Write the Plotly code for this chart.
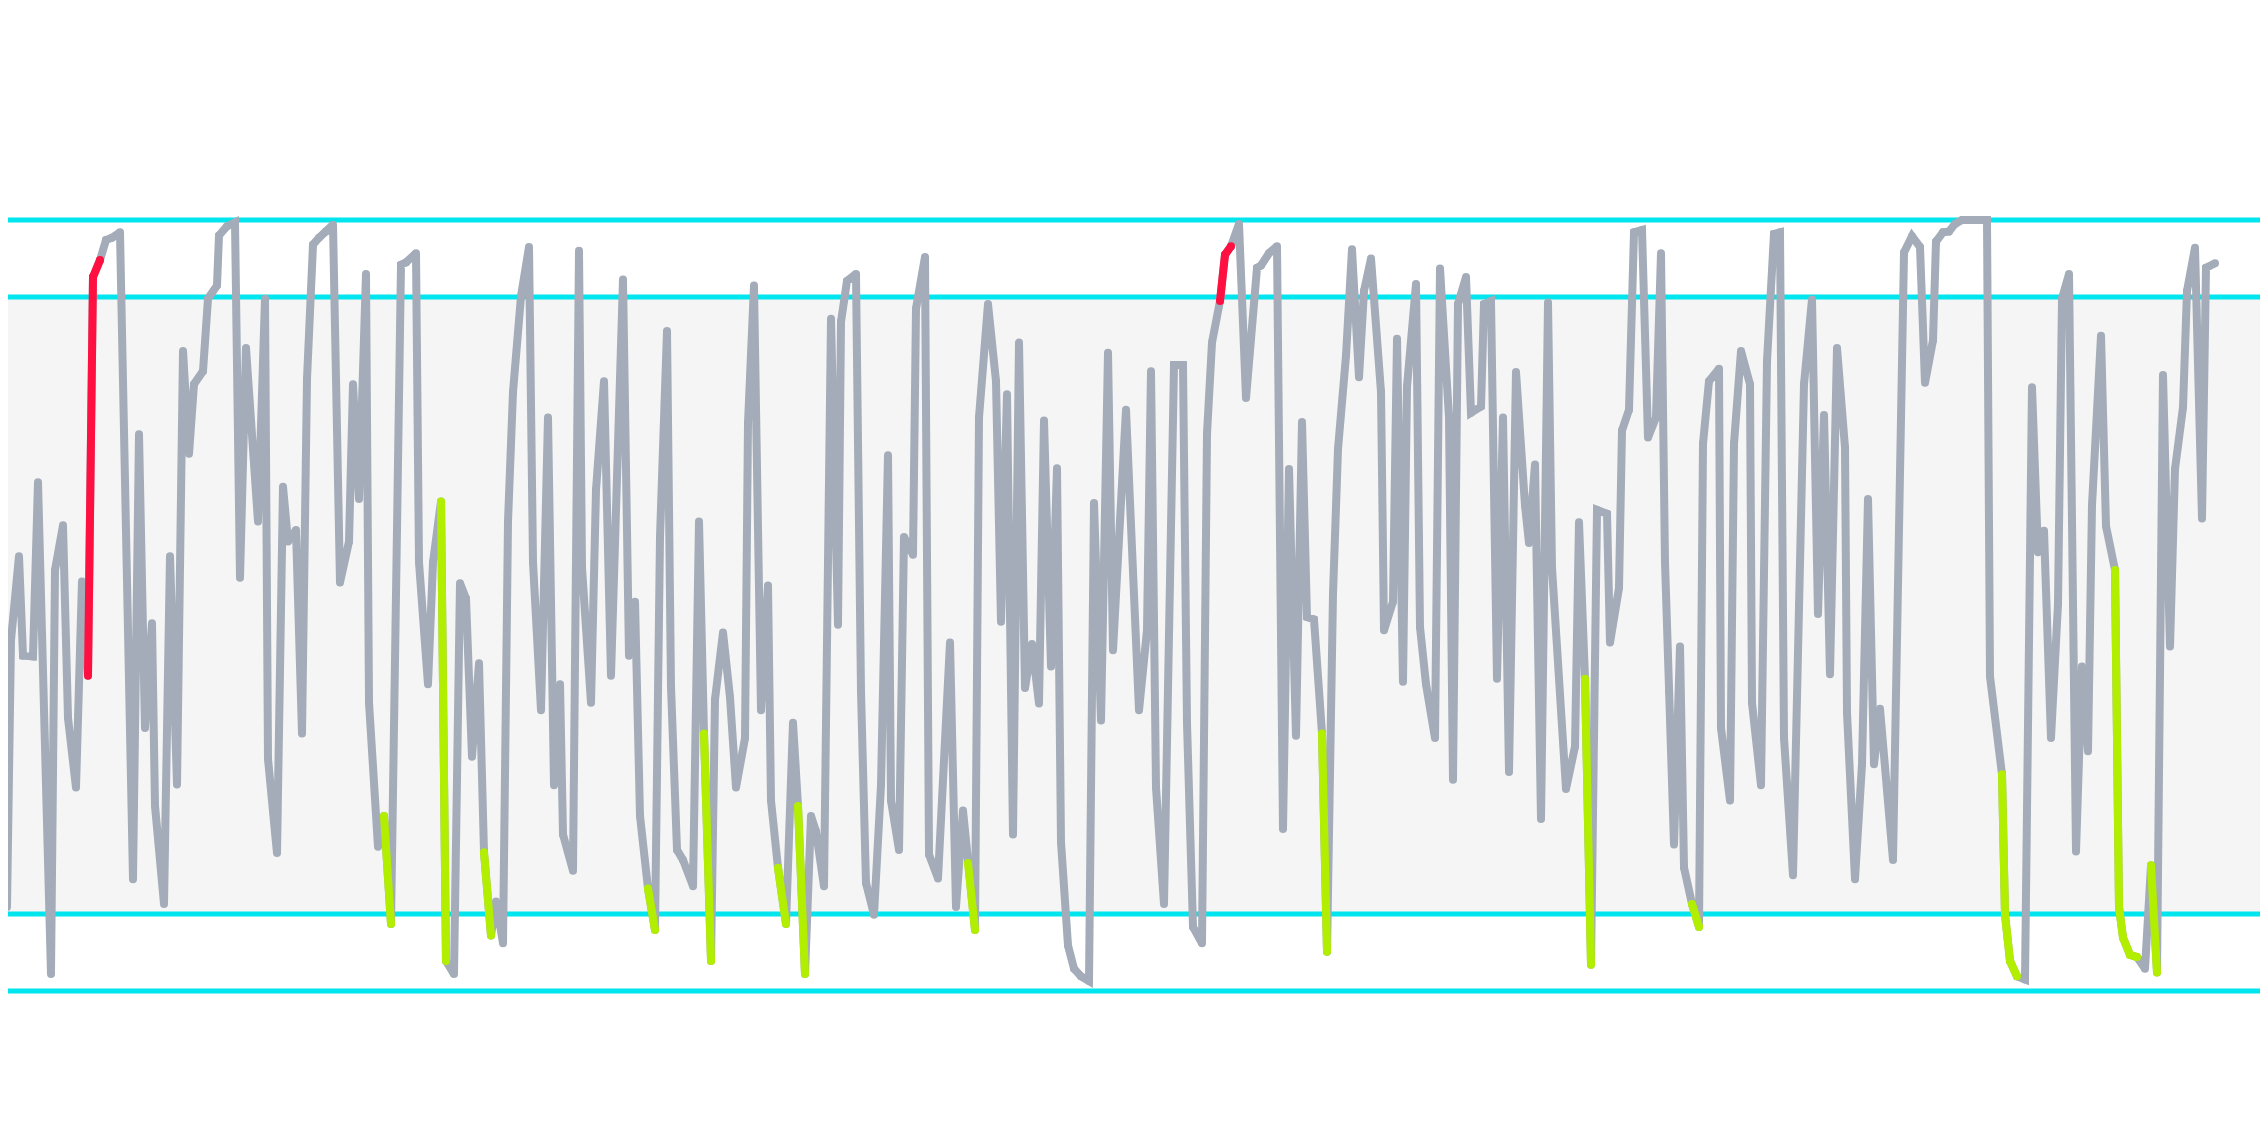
import plotly.graph_objects as go

# sample position (px-ish time units) and signal level
x = [2, 7, 11, 19, 23, 33, 38, 51, 55, 63, 68, 76, 82, 88, 93, 100, 106, 112, 120, 133,
     139, 145, 152, 155, 164, 170, 177, 183, 189, 194, 203, 208, 217, 219, 227, 235, 240, 246, 258, 265,
     268, 277, 283, 288, 296, 302, 307, 313, 319, 326, 333, 340, 349, 353, 359, 366, 369, 378,
     384, 391, 401, 406, 416, 419, 428, 433, 441, 446, 454, 460, 466, 472, 479, 484, 491, 496, 503,
     508, 513, 521, 529, 533, 541, 548, 554, 560, 563, 573, 579, 582, 591, 596, 604, 611, 623, 629,
     635, 640, 648, 655, 660, 667, 671, 677, 683, 693, 699, 704, 711, 715, 723, 730, 736, 745, 748, 754,
     761, 768, 771, 778, 786, 793, 798, 805, 811, 816, 824, 831, 838, 841, 847, 856, 861, 866, 874,
     881, 888, 891, 899, 904, 913, 916, 925, 929, 938, 950, 956, 963, 968, 975, 979, 988, 996, 1001,
     1007, 1013, 1019, 1025, 1032, 1039, 1044, 1051, 1057, 1061, 1068, 1074, 1081, 1089, 1094, 1101,
     1108, 1113, 1126,
     1139, 1147, 1151, 1156, 1164, 1174, 1183, 1187, 1193, 1202, 1207, 1212, 1220, 1225, 1231, 1239,
     1246, 1257, 1261, 1269, 1277, 1283, 1289, 1296, 1302, 1307, 1314, 1322, 1327, 1333, 1338, 1346,
     1352, 1359, 1364, 1371, 1381, 1384, 1393, 1397, 1403, 1407, 1416, 1420, 1426, 1435, 1440, 1449,
     1453, 1458, 1466, 1471, 1481, 1484, 1491, 1497, 1503, 1509,
     1516, 1525, 1529, 1535, 1541, 1548, 1552, 1566, 1575, 1579, 1585, 1591, 1597, 1607, 1610, 1619,
     1622, 1629, 1634, 1642, 1648, 1656, 1661, 1665, 1669, 1674, 1680, 1684, 1692, 1699, 1703, 1709,
     1719, 1721, 1730, 1734, 1741, 1750, 1752, 1761, 1767, 1774, 1780, 1784, 1793, 1799, 1804, 1812,
     1818, 1824, 1830, 1837, 1845, 1847, 1855, 1862, 1868, 1874, 1880,
     1893, 1904, 1912, 1920, 1925, 1933, 1936, 1943, 1949, 1955, 1962, 1987, 1990, 2002, 2005, 2010,
     2017, 2025, 2032, 2038, 2044, 2051, 2058, 2062, 2069, 2076, 2082, 2088, 2092, 2101, 2106, 2115,
     2119, 2123, 2130, 2137, 2145, 2151, 2157, 2163, 2170, 2175, 2183, 2187, 2195, 2202, 2206, 2215]

y = [66.6, 10.9, 45.5, 56.4, 43.5, 43.4, 66.0, 2.2, 54.6, 60.4, 35.4, 26.4, 53.1, 40.9, 92.6, 94.8, 97.4, 97.7, 98.4, 14.5,
     72.2, 34.1, 47.7, 24.0, 11.3, 56.4, 26.8, 83.0, 69.7, 78.7, 80.4, 89.8, 91.5, 98.0, 99.2, 99.7, 53.6, 83.4, 60.9, 89.8,
     30.1, 17.9, 65.4, 58.3, 59.8, 33.4, 79.4, 96.8, 97.7, 98.5, 99.4, 53.0, 58.3, 78.7, 63.8, 93.0, 37.4, 18.7,
     22.7, 8.7, 94.2, 94.5, 95.7, 55.6, 39.8, 55.6, 63.5, 3.9, 2.2, 52.9, 50.9, 30.4, 42.5, 18.0, 7.2, 11.6, 6.2,
     60.9, 77.7, 90.1, 96.5, 55.6, 36.4, 74.4, 26.7, 39.8, 20.3, 15.6, 96.0, 54.9, 37.4, 65.0, 79.1, 40.9, 92.3, 43.5,
     50.5, 22.7, 13.3, 7.9, 58.9, 85.6, 39.5, 18.3, 17.0, 13.6, 60.9, 33.4, 3.9, 37.8, 46.5, 38.1, 26.4, 32.8, 73.7, 91.5,
     36.4, 52.6, 24.7, 16.0, 8.7, 34.8, 24.0, 2.2, 22.7, 20.7, 13.6, 87.2, 47.5, 86.8, 92.1, 93.0, 38.8, 14.0, 9.9,
     26.7, 69.5, 24.7, 18.3, 58.9, 56.6, 88.5, 95.2, 17.7, 14.6, 45.2, 10.9, 23.4, 16.6, 7.9, 74.4, 89.1, 79.1, 47.9,
     77.4, 20.3, 84.1, 39.3, 45.0, 37.3, 74.0, 42.1, 67.8, 19.3, 5.9, 2.9, 1.9, 1.3, 63.3, 35.1,
     82.8, 44.2, 75.4,
     36.4, 46.8, 80.4, 26.4, 11.3, 81.2, 81.2, 34.8, 8.3, 6.2, 72.3, 84.1, 89.5, 95.5, 96.6, 99.5,
     76.9, 93.8, 94.1, 95.7, 96.6, 21.0, 67.7, 33.1, 73.8, 48.5, 48.2, 33.4, 5.1, 51.5, 70.3, 82.4,
     96.2, 79.6, 90.8, 95.0, 77.7, 46.8, 50.5, 84.6, 40.1, 78.4, 91.7, 47.2, 39.8, 32.8, 93.7, 74.4,
     27.4, 89.1, 92.6, 75.0, 75.8, 89.1, 89.5, 40.5, 74.4, 28.4,
     80.3, 63.0, 58.1, 68.3, 22.3, 89.3, 54.9, 26.2, 31.7, 60.8, 40.5, 3.4, 62.4, 61.9, 45.2, 52.3,
     72.7, 75.4, 98.4, 98.7, 71.8, 74.4, 95.7, 55.6, 38.8, 19.0, 44.7, 16.0, 11.3, 8.3, 71.0, 79.1,
     80.7, 34.1, 24.7, 71.0, 83.0, 78.7, 37.4, 26.7, 81.7, 98.2, 98.4, 32.8, 15.0, 50.2, 78.7, 89.7,
     48.9, 74.7, 41.1, 83.4, 70.5, 36.1, 14.5, 29.4, 63.8, 29.4, 36.6,
     17.0, 95.8, 97.9, 96.5, 78.9, 84.4, 97.2, 98.4, 98.5, 99.5, 100.0, 100.0, 40.8, 28.1, 9.9, 3.9,
     1.9, 1.5, 78.3, 56.9, 59.7, 32.8, 50.2, 89.8, 93.0, 18.1, 42.1, 31.1, 63.0, 85.0, 60.3, 54.6,
     10.9, 6.9, 4.7, 4.4, 2.9, 16.3, 2.4, 79.9, 44.7, 67.7, 75.7, 90.8, 96.4, 61.3, 93.8, 94.4]

# reference levels
levels = [0, 10, 90, 100]
band = (10, 90)

# stretches of the signal that are highlighted (x from, x to)
red_spans = [(88, 100), (1220, 1231)]
green_spans = [(384, 391), (441, 446), (484, 491), (648, 655), (704, 711), (778, 786),
               (798, 805), (968, 975), (1322, 1327), (1585, 1591), (1692, 1699),
               (2002, 2017), (2115, 2137), (2151, 2157)]

GRAY = "#a3acb8"
CYAN = "#00e5ee"
RED = "#ff1040"
GREEN = "#b2ee00"
LW = 8

fig = go.Figure()

# markers at the vertices give the line rounded joins and ends
fig.add_trace(go.Scatter(x=x, y=y, mode="lines+markers",
                         line=dict(color=GRAY, width=LW),
                         marker=dict(color=GRAY, size=LW, line_width=0),
                         hoverinfo="skip"))

def add_span(a, b, color):
    xs = [xi for xi in x if a <= xi <= b]
    ys = [yi for xi, yi in zip(x, y) if a <= xi <= b]
    fig.add_trace(go.Scatter(x=xs, y=ys, mode="lines+markers",
                             line=dict(color=color, width=LW),
                             marker=dict(color=color, size=LW, line_width=0),
                             hoverinfo="skip"))

for a, b in red_spans:
    add_span(a, b, RED)
for a, b in green_spans:
    add_span(a, b, GREEN)

# shaded normal band
fig.add_shape(type="rect", xref="paper", x0=0, x1=1, y0=band[0], y1=band[1],
              fillcolor="#f5f5f5", line_width=0, layer="below")
for lv in levels:
    fig.add_shape(type="line", xref="paper", x0=0, x1=1, y0=lv, y1=lv,
                  line=dict(color=CYAN, width=5), layer="below")

# the page body adds an 8px offset, so the ranges are shifted to compensate
fig.update_layout(
    width=2268, height=1148,
    margin=dict(l=0, r=0, t=0, b=0),
    paper_bgcolor="white", plot_bgcolor="white",
    showlegend=False,
)
fig.update_xaxes(visible=False, range=[8, 2276])
fig.update_yaxes(visible=False, range=[-21.4, 127.5])

fig.write_html("out.html")
